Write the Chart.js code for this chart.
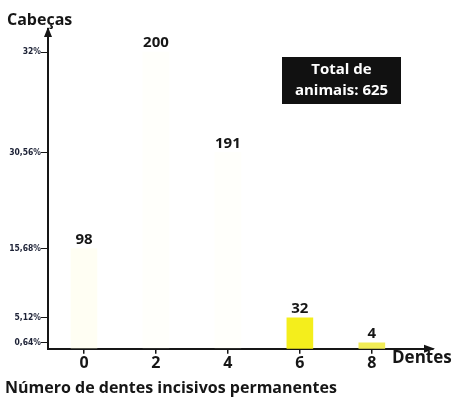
<!DOCTYPE html>
<html>
<head>
<meta charset="utf-8">
<script src="https://cdn.jsdelivr.net/npm/chart.js@4.4.1/dist/chart.umd.min.js"></script>
<style>
  html, body { margin: 0; padding: 0; background: #fff; }
  #wrap { width: 455px; height: 400px; }
</style>
</head>
<body>
<div id="wrap"><canvas id="c" width="455" height="400"></canvas></div>
<script>
// ---- data ----
const categories = [0, 2, 4, 6, 8];          // número de dentes incisivos permanentes
const cabecas = [98, 200, 191, 32, 4];        // cabeças
const totalAnimais = 625;
const yTickCounts = [4, 32, 98, 191, 200];    // counts shown as % on the y axis
const yAxisTitle = 'Cabeças';
const xAxisTitle = 'Dentes';
const chartTitle = 'Número de dentes incisivos permanentes';
const boxLines = ['Total de', 'animais: ' + totalAnimais];

function pct(v) {
  const p = v / totalAnimais * 100;
  return (Number.isInteger(p) ? String(p) : p.toFixed(2).replace('.', ',')) + '%';
}

// ---- piecewise (broken) value scale, as drawn in the original ----
class PiecewiseScale extends Chart.LinearScale {
  _knots() {
    const vals = [this.min].concat(this.options.breakValues, [this.max]);
    const fr = [0].concat(this.options.breakFractions, [1]);
    return { vals, fr };
  }
  getPixelForValue(value) {
    const { vals, fr } = this._knots();
    let d = 0;
    if (value <= vals[0]) d = 0;
    else if (value >= vals[vals.length - 1]) d = 1;
    else {
      for (let i = 0; i < vals.length - 1; i++) {
        if (value >= vals[i] && value <= vals[i + 1]) {
          d = fr[i] + (value - vals[i]) / (vals[i + 1] - vals[i]) * (fr[i + 1] - fr[i]);
          break;
        }
      }
    }
    return this.getPixelForDecimal(d);
  }
  getValueForPixel(pixel) {
    const { vals, fr } = this._knots();
    const d = this.getDecimalForPixel(pixel);
    for (let i = 0; i < fr.length - 1; i++) {
      if (d >= fr[i] && d <= fr[i + 1]) {
        return vals[i] + (d - fr[i]) / (fr[i + 1] - fr[i]) * (vals[i + 1] - vals[i]);
      }
    }
    return d <= 0 ? vals[0] : vals[vals.length - 1];
  }
}
PiecewiseScale.id = 'piecewise';
PiecewiseScale.defaults = Chart.LinearScale.defaults;
Chart.register(PiecewiseScale);

const FONT = '"Open Sans", "Noto Sans", sans-serif';
const INK = '#161616';

const barColors = [
  'rgba(255,253,222,0.35)',
  'rgba(255,253,222,0.12)',
  'rgba(255,253,222,0.12)',
  '#f4ee1c',
  '#f1ec55'
];

const decorPlugin = {
  id: 'decor',
  afterDatasetsDraw(chart) {
    const ctx = chart.ctx;
    const meta = chart.getDatasetMeta(0);
    ctx.save();
    ctx.fillStyle = INK;
    ctx.font = 'bold 15px ' + FONT;
    ctx.textAlign = 'center';
    ctx.textBaseline = 'middle';
    meta.data.forEach((bar, i) => {
      ctx.fillText(String(cabecas[i]), bar.x, bar.y - 9);
    });
    ctx.restore();
  },
  afterDraw(chart) {
    const ctx = chart.ctx;
    const a = chart.chartArea;
    ctx.save();
    ctx.fillStyle = INK;
    // y arrow
    ctx.beginPath();
    ctx.moveTo(a.left, a.top - 2);
    ctx.lineTo(a.left - 4, a.top + 8);
    ctx.lineTo(a.left + 4, a.top + 8);
    ctx.closePath();
    ctx.fill();
    // x arrow
    ctx.beginPath();
    ctx.moveTo(a.right + 2, a.bottom);
    ctx.lineTo(a.right - 9, a.bottom - 4);
    ctx.lineTo(a.right - 9, a.bottom + 4);
    ctx.closePath();
    ctx.fill();
    // axis captions
    ctx.font = 'bold 16px ' + FONT;
    ctx.textAlign = 'left';
    ctx.textBaseline = 'middle';
    ctx.fillText(yAxisTitle, 7, 20);
    ctx.font = 'bold 17px ' + FONT;
    ctx.fillText(xAxisTitle, 392, 358);
    // total box
    ctx.fillStyle = '#111';
    ctx.fillRect(282, 57, 119, 47);
    ctx.fillStyle = '#fff';
    ctx.font = 'bold 15px ' + FONT;
    ctx.textAlign = 'center';
    ctx.fillText(boxLines[0], 341.5, 70);
    ctx.fillText(boxLines[1], 341.5, 91);
    ctx.restore();
  }
};

new Chart(document.getElementById('c'), {
  type: 'bar',
  data: {
    datasets: [{
      data: categories.map((c, i) => ({ x: c, y: cabecas[i] })),
      backgroundColor: barColors,
      borderWidth: 0,
      barThickness: 26
    }]
  },
  options: {
    responsive: false,
    animation: false,
    devicePixelRatio: 1,
    layout: { padding: { left: 5, right: 22, top: 29, bottom: 0 } },
    plugins: {
      legend: { display: false },
      tooltip: { enabled: false },
      title: {
        display: true,
        text: chartTitle,
        position: 'bottom',
        align: 'start',
        color: INK,
        font: { family: FONT, size: 16, weight: 'bold', lineHeight: 1.2 },
        padding: { top: 0, bottom: 2 }
      }
    },
    scales: {
      x: {
        type: 'linear',
        offset: false,
        min: -1,
        max: 9.7,
        afterBuildTicks: (s) => { s.ticks = categories.map(v => ({ value: v })); },
        afterFit: (s) => { s.height = 30; },
        grid: { drawOnChartArea: false, drawTicks: true, tickLength: 5, color: INK, lineWidth: 1.5, offset: false },
        border: { display: true, color: INK, width: 2 },
        ticks: {
          padding: 0,
          color: INK,
          font: { family: FONT, size: 16, weight: 'bold' },
          callback: (v) => String(v)
        }
      },
      y: {
        type: 'piecewise',
        min: 0,
        max: 215,
        breakValues: yTickCounts,
        breakFractions: [0.019, 0.097, 0.313, 0.614, 0.928],
        afterBuildTicks: (s) => { s.ticks = yTickCounts.map(v => ({ value: v })); },
        afterFit: (s) => { s.width = 43; },
        grid: { drawOnChartArea: false, drawTicks: true, tickLength: 7, color: INK, lineWidth: 1 },
        border: { display: true, color: INK, width: 2 },
        ticks: {
          padding: 0,
          color: '#1d2236',
          font: { family: '"DejaVu Sans Condensed", "Liberation Sans Narrow", "DejaVu Sans", sans-serif', size: 8.5, weight: 'bold' },
          callback: (v) => pct(v)
        }
      }
    }
  },
  plugins: [decorPlugin]
});
</script>
</body>
</html>
